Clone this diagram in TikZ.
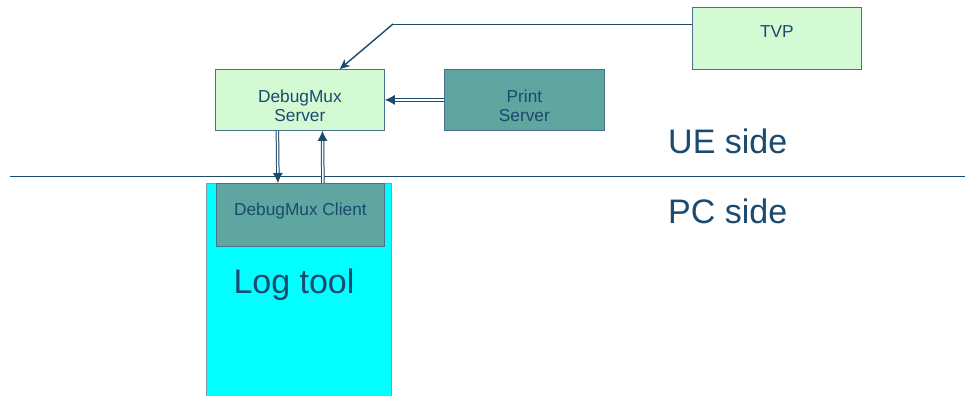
\documentclass[tikz,border=0pt]{standalone}
\usepackage{fontspec}
\setmainfont{Liberation Sans}
\usetikzlibrary{arrows.meta}

\definecolor{boxgreen}{HTML}{D4FAD4}
\definecolor{boxteal}{HTML}{5FA5A0}
\definecolor{logcyan}{HTML}{00FFFF}
\definecolor{inkblue}{HTML}{1A4A6E}
\definecolor{edgeblue}{HTML}{4A7090}

\tikzset{
  unit/.style={draw=edgeblue, line width=0.8pt, anchor=north west, text=inkblue,
               align=center, font=\fontsize{17.3}{19.5}\selectfont, inner sep=0pt},
  bigtxt/.style={text=inkblue, font=\fontsize{34}{40}\selectfont, inner sep=0pt},
  link/.style={draw=inkblue, line width=1pt},
  dlink/.style={draw=inkblue, double=white, double distance=1.5pt, line width=1pt,
                -{Latex[length=10pt,width=10pt]}}
}

\begin{document}
\begin{tikzpicture}[x=1pt, y=-1pt]
                    \useasboundingbox (0,0) rectangle (972,396);
                    \clip (0,0) rectangle (972,396);
                    % boxes
                    \node[unit, fill=boxgreen, minimum width=169pt, minimum height=61pt, text height=44pt, text depth=0pt] (server) at (215,69) {DebugMux\\Server};
                    \node[unit, fill=boxteal, minimum width=160pt, minimum height=61pt, text height=44pt, text depth=0pt] (print) at (444,69) {Print\\Server};
                    \node[unit, fill=boxgreen, minimum width=169pt, minimum height=62pt, text depth=14pt] (tvp) at (692,7) {TVP};
                    \node[unit, draw=gray!70!cyan, fill=logcyan, minimum width=185pt, minimum height=230pt] (logtool) at (206,183) {};
                    \node[unit, fill=boxteal, minimum width=168pt, minimum height=63pt, text depth=11pt] (client) at (216,183) {DebugMux Client};
                    \node[bigtxt] (logtxt) at (294,285) {Log tool};
                    \node[bigtxt, anchor=west] (ueside) at (668,141) {UE side};
                    \node[bigtxt, anchor=west] (pcside) at (668,211) {PC side};
                    % divider
                    \coordinate (divL) at (10,176);
                    \coordinate (divR) at (965,176);
                    \draw[inkblue, line width=0.8pt] (divL) -- (divR);
                    % connectors
                    \coordinate (bend) at (393,24);
                    \draw[link, line width=0.7pt] (tvp.west |- bend) -- (bend);
                    \draw[link, line width=1.4pt, -{Stealth[length=10pt,width=9pt]}] (bend) -- ([xshift=40pt]server.north);
                    \draw[dlink] (print.west) -- (server.east);
                    \draw[dlink] ([xshift=-22.5pt]server.south) -- ([xshift=-22.5pt]client.north);
                    \draw[dlink] ([xshift=22.5pt]client.north) -- ([xshift=22.5pt]server.south);
                \end{tikzpicture}
\end{document}
